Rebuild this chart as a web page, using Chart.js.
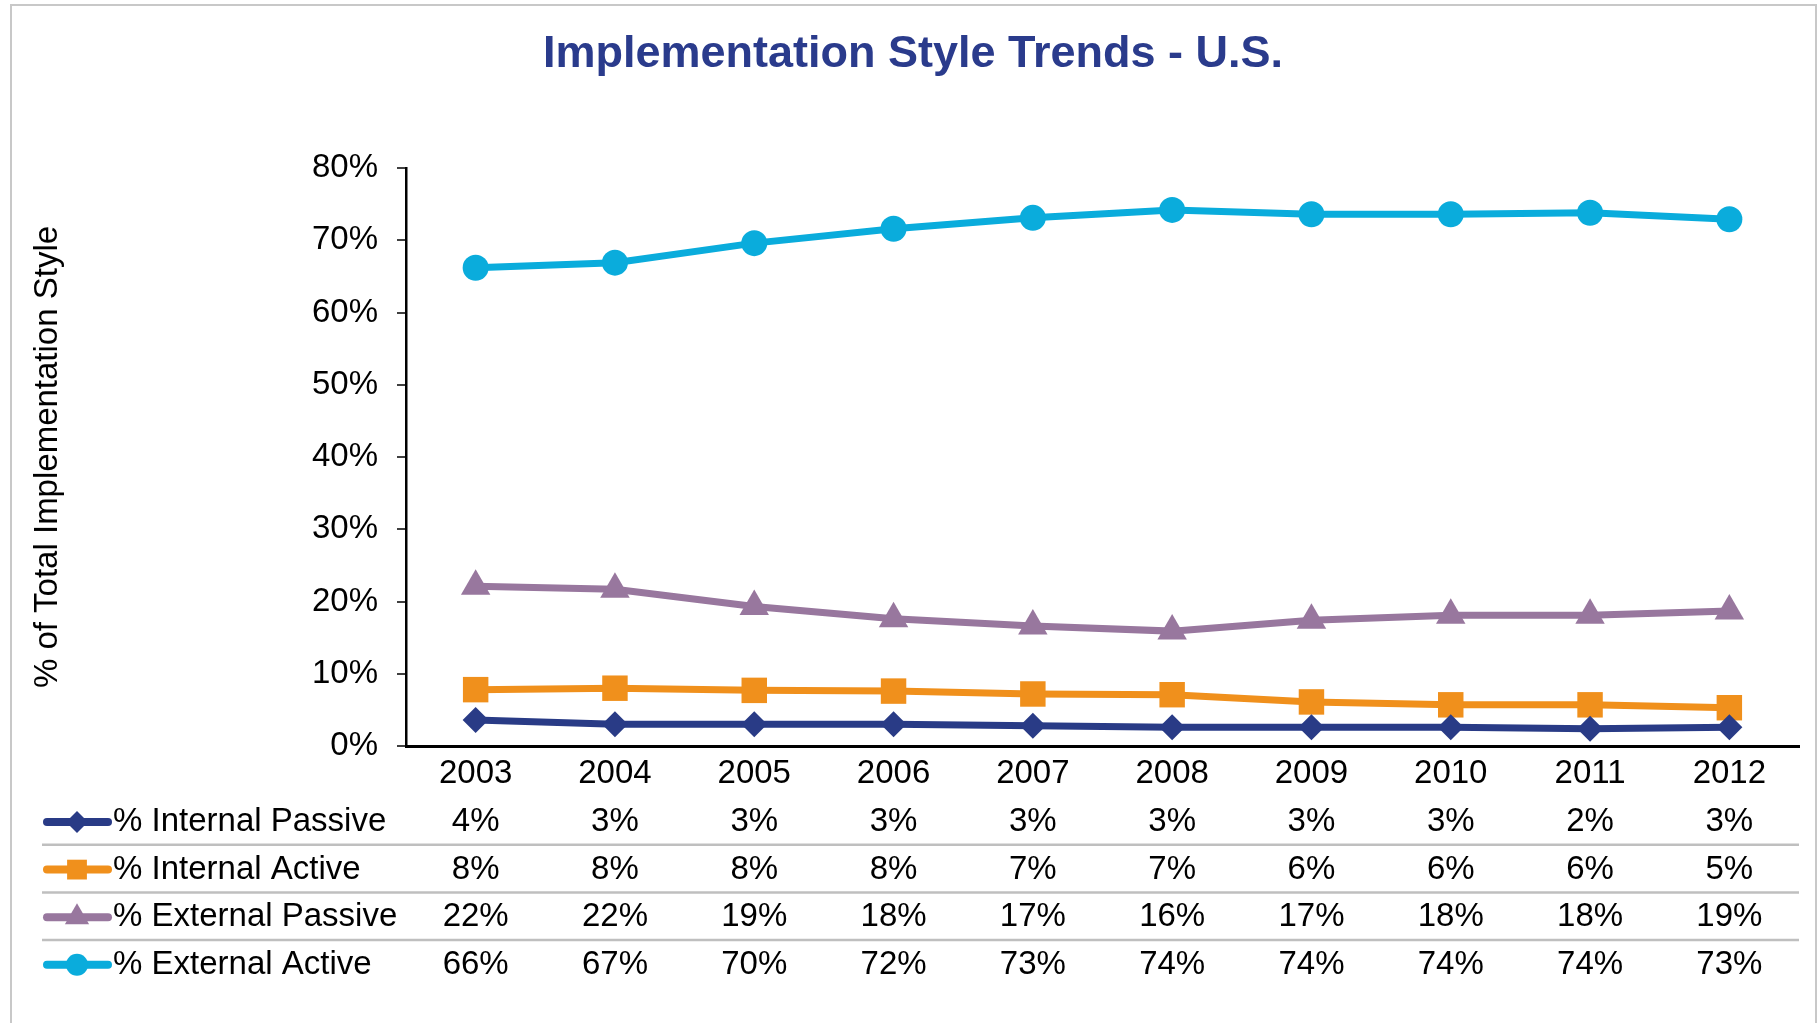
<!DOCTYPE html>
<html>
<head>
<meta charset="utf-8">
<title>Implementation Style Trends - U.S.</title>
<script src="https://cdn.jsdelivr.net/npm/chart.js@4/dist/chart.umd.min.js"></script>
<style>
html,body{margin:0;padding:0;background:#fff}
#wrap{width:1820px;height:1023px}
</style>
</head>
<body>
<div id="wrap"><canvas id="c" width="1820" height="1023"></canvas></div>
<script>
// values (percent)
const years = ['2003','2004','2005','2006','2007','2008','2009','2010','2011','2012']
const internalPassive = [3.6,3.0,3.0,3.0,2.8,2.6,2.6,2.6,2.4,2.6]
const internalActive = [7.8,8.0,7.7,7.6,7.2,7.1,6.1,5.7,5.7,5.3]
const externalPassive = [22.1,21.7,19.3,17.6,16.6,15.9,17.4,18.1,18.1,18.7]
const externalActive = [66.2,66.9,69.6,71.6,73.1,74.2,73.6,73.6,73.8,72.9]
const seriesNames = ['% Internal Passive','% Internal Active','% External Passive','% External Active']
const yTicks = [0,10,20,30,40,50,60,70,80]

const FONT = '"Liberation Sans", Arial, Helvetica, sans-serif'
const colors = ['#293B86','#F0901C','#98779E','#0AACDC']
const styles = ['rectRot','rect','triangle','circle']
const radii = [13,18,17,13]
const legendRadii = [11,14,14,11]

function mk(i, data){
  return {
    label: seriesNames[i], data,
    borderColor: colors[i], backgroundColor: colors[i],
    borderWidth: 7, pointStyle: styles[i], pointRadius: radii[i],
    pointBorderWidth: 0, pointBackgroundColor: colors[i],
    tension: 0, clip: false
  }
}

// frame + white background
const framePlugin = {
  id: 'frame',
  beforeDraw(chart){
    const ctx = chart.ctx
    ctx.save()
    ctx.fillStyle = '#fff'
    ctx.fillRect(0,0,chart.width,chart.height)
    ctx.strokeStyle = '#c8c8c8'
    ctx.lineWidth = 2
    ctx.strokeRect(11,5,chart.width-15,chart.height+20)
    ctx.restore()
  }
}

// data table under the x axis, with legend keys
const tablePlugin = {
  id: 'dataTable',
  afterDraw(chart){
    const ctx = chart.ctx
    const xs = chart.scales.x
    const area = chart.chartArea
    const rowH = 47.6
    const y0 = area.bottom + 76
    ctx.save()
    chart.data.datasets.forEach((ds,i)=>{
      const y = y0 + i*rowH
      // key: line + marker
      ctx.strokeStyle = colors[i]
      ctx.lineWidth = 8
      ctx.lineCap = 'round'
      ctx.beginPath()
      ctx.moveTo(47,y)
      ctx.lineTo(108,y)
      ctx.stroke()
      ctx.fillStyle = colors[i]
      Chart.helpers.drawPoint(ctx,{pointStyle:styles[i],radius:legendRadii[i],rotation:0,borderWidth:0},77,y)
      ctx.fillStyle = '#000'
      ctx.font = '33px ' + FONT
      ctx.textBaseline = 'middle'
      ctx.textAlign = 'left'
      ctx.fillText(ds.label,113,y)
      ctx.textAlign = 'center'
      ds.data.forEach((v,j)=>{
        ctx.fillText(Math.round(v)+'%', xs.getPixelForValue(j), y)
      })
      if(i < chart.data.datasets.length-1){
        ctx.strokeStyle = '#bfbfbf'
        ctx.lineWidth = 2.5
        ctx.lineCap = 'butt'
        ctx.beginPath()
        ctx.moveTo(42, y + rowH/2 - 1)
        ctx.lineTo(area.right, y + rowH/2 - 1)
        ctx.stroke()
      }
    })
    ctx.restore()
  }
}

new Chart(document.getElementById('c'),{
  type:'line',
  data:{
    labels: years,
    datasets:[mk(0,internalPassive),mk(1,internalActive),mk(2,externalPassive),mk(3,externalActive)]
  },
  options:{
    responsive:false,
    animation:false,
    layout:{padding:{left:27,right:21,top:0,bottom:0}},
    plugins:{
      legend:{display:false},
      tooltip:{enabled:false},
      title:{
        display:true,
        text:'Implementation Style Trends - U.S.',
        color:'#2A3B8C',
        font:{family:FONT,size:45,weight:'bold'},
        padding:{top:28,bottom:86}
      }
    },
    scales:{
      x:{
        offset:true,
        grid:{display:false,drawTicks:false},
        border:{display:true,color:'#000',width:3},
        ticks:{color:'#000',font:{family:FONT,size:33},padding:8,maxRotation:0},
        afterFit(s){ s.height = 277 }
      },
      y:{
        min:0,max:80,
        afterBuildTicks(s){ s.ticks = yTicks.map(v=>({value:v})) },
        grid:{display:true,drawOnChartArea:false,drawTicks:true,tickLength:9,color:'#404040',lineWidth:2},
        border:{display:true,color:'#000',width:2.5},
        ticks:{color:'#000',font:{family:FONT,size:33},padding:19,callback:v=>v+'%'},
        title:{display:true,text:'% of Total Implementation Style',color:'#000',font:{family:FONT,size:33},padding:{top:1,bottom:0}},
        afterFit(s){ s.width = 379 }
      }
    }
  },
  plugins:[framePlugin,tablePlugin]
})
</script>
</body>
</html>
